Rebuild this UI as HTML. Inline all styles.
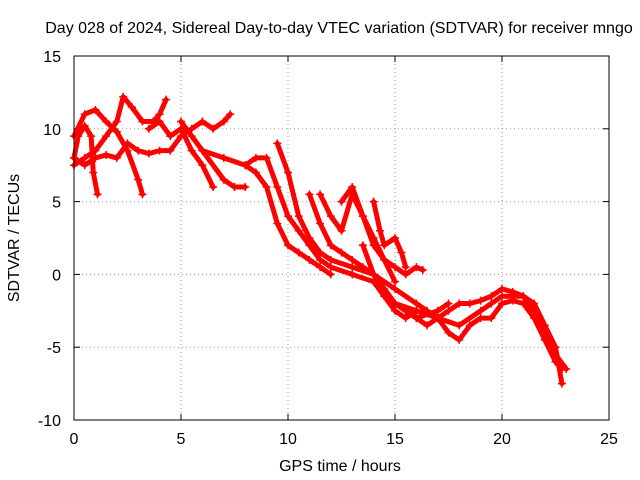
<!DOCTYPE html>
<html><head><meta charset="utf-8"><style>
body{margin:0;background:#fff;}
svg{display:block;font-family:"Liberation Sans",sans-serif;font-size:16px;}
</style></head><body>
<svg id="chart" width="640" height="480">
<text x="339" y="33" text-anchor="middle">Day 028 of 2024, Sidereal Day-to-day VTEC variation (SDTVAR) for receiver mngo</text>
<text x="340" y="471" text-anchor="middle">GPS time / hours</text>
<text transform="translate(19,238) rotate(-90)" text-anchor="middle">SDTVAR / TECUs</text>
<g id="grid"></g><g id="ticks"></g><g id="series"></g>
<rect x="74" y="56" width="535" height="364" fill="none" stroke="#000"/>
</svg>
<script>
const xTicks=[0,5,10,15,20,25];
const yTicks=[-10,-5,0,5,10,15];
const s1=[[0,8],[0.2,9.5],[0.5,10.2],[0.8,9.5],[0.9,7],[1.1,5.5]];
const s2=[[0,9.5],[0.5,11],[1,11.3],[1.5,10.5],[2,9.8],[2.5,8.5],[3,6.5],[3.2,5.5]];
const s3=[[0,7.5],[0.5,8],[1,8.5],[1.5,9.5],[2,10.5],[2.3,12.2],[2.7,11.5],[3.2,10.5],[3.7,10.5],[4,11],[4.3,12]];
const s4=[[0,8],[0.5,7.5],[1,8],[1.5,8.2],[2,8],[2.5,9],[3,8.5],[3.5,8.3],[4,8.5],[4.5,8.5],[5,9.5],[5.5,10],[6,10.5],[6.5,10],[7,10.5],[7.3,11]];
const s5=[[3.5,10],[4,10.5],[4.5,9.5],[5,10],[5.5,8.5],[6,7.5],[6.5,6]];
const s6=[[5,10.5],[5.5,9.5],[6,8.5],[7,8],[8,7.5],[8.5,7],[9,6],[9.5,3.5],[10,2],[10.5,1.5],[11,1],[11.5,0.5],[12,0]];
const s7=[[6,8.5],[7,6.5],[7.5,6],[8,6]];
const s8=[[8,7.5],[8.5,8],[9,8],[9.5,6],[10,4],[10.5,3],[11,2],[11.5,1],[12,0.5],[13,0],[14,-0.5],[14.5,-1.5],[15,-2.5],[15.5,-3],[16,-2.5]];
const s9=[[9.5,9],[10,7],[10.5,4],[11,2.5],[11.5,1.5],[12,1],[13,0.5],[14,0],[15,-1],[16,-2],[16.5,-2.5],[17,-3],[18,-3.5],[19,-2.5],[19.5,-2],[20,-1.5],[21,-1.5],[21.5,-2.5],[22,-4],[22.5,-5.5],[23,-6.5]];
const s10=[[11,5.5],[11.5,3.5],[12,2],[12.5,1.5],[13,1],[13.5,0.5],[14,0],[15,-2],[16,-3],[17,-2.5],[17.5,-2]];
const s11=[[11.5,5.5],[12,4],[12.5,3],[13,5.5],[13.5,4],[14,2],[14.5,1],[15,0.5],[15.5,0],[16,0.5],[16.3,0.3]];
const s12=[[12.5,5],[13,6],[13.5,4],[14,2.5],[14.5,1],[15,-0.5]];
const s13=[[14,5],[14.3,3],[14.5,2],[15,2.5],[15.3,1.5],[15.5,0.5]];
const s14=[[13.5,2],[14,0],[14.5,-1],[15,-2],[15.5,-2.5],[16,-3],[16.5,-3.5],[17,-3],[17.5,-2.5],[18,-2],[18.5,-2],[19,-1.8],[19.5,-1.5],[20,-1],[20.5,-1.2],[21,-1.5],[21.5,-2],[22,-3.5],[22.5,-5],[22.8,-7.5]];
const s15=[[15,-2],[16,-2.5],[17,-3],[17.5,-4],[18,-4.5],[18.5,-3.5],[19,-3],[19.5,-3],[20,-2],[20.5,-1.8],[21,-2],[21.5,-3],[22,-4.5],[22.5,-6],[22.8,-6.5]];
const allSeries=[s1,s2,s3,s4,s5,s6,s7,s8,s9,s10,s11,s12,s13,s14,s15];
const X=v=>74+v*535/25, Y=v=>56+(15-v)*364/25;
const NS="http://www.w3.org/2000/svg";
const g=document.getElementById('grid'),t=document.getElementById('ticks'),sg=document.getElementById('series');
function mk(tag,at,p){const e=document.createElementNS(NS,tag);for(const k in at)e.setAttribute(k,at[k]);p.appendChild(e);return e;}
xTicks.forEach(v=>{
 const l=mk('line',{x1:X(v),x2:X(v),y1:56,y2:420,stroke:'#999','stroke-dasharray':'1,3'},g);
 
 
 mk('line',{x1:X(v),x2:X(v),y1:420,y2:414,stroke:'#000'},t);
 mk('line',{x1:X(v),x2:X(v),y1:56,y2:62,stroke:'#000'},t);
 const tx=mk('text',{x:X(v),y:444,'text-anchor':'middle'},t);tx.textContent=v;
 
 
});
yTicks.forEach(v=>{
 const l=mk('line',{x1:74,x2:609,y1:Y(v),y2:Y(v),stroke:'#999','stroke-dasharray':'1,3'},g);
 
 
 mk('line',{x1:74,x2:80,y1:Y(v),y2:Y(v),stroke:'#000'},t);
 mk('line',{x1:603,x2:609,y1:Y(v),y2:Y(v),stroke:'#000'},t);
 const tx=mk('text',{x:61,y:Y(v)+6,'text-anchor':'end'},t);tx.textContent=v;
 
 
});
allSeries.forEach((s,i)=>{
 const pl=mk('polyline',{points:s.map(p=>X(p[0])+','+Y(p[1])).join(' '),fill:'none',stroke:'#f00','stroke-width':5,'stroke-linejoin':'round','stroke-linecap':'round'},sg);
 
 
 s.forEach(p=>{
  const x=X(p[0]),y=Y(p[1]);
  const m=mk('path',{d:`M${x-4},${y}H${x+4}M${x},${y-4}V${y+4}`,stroke:'#f00','stroke-width':1.5},sg);
  
  
 });
});
</script>
</body></html>
